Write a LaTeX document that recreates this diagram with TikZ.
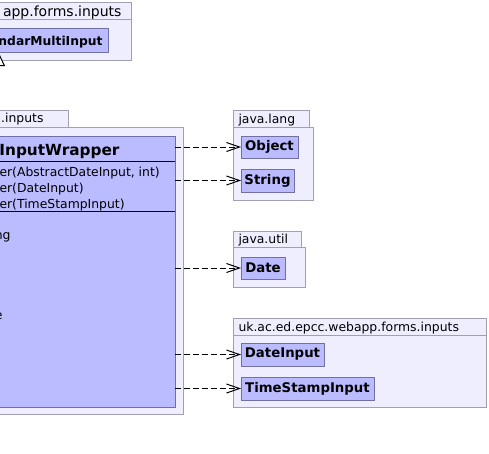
\documentclass[tikz,border=0pt]{standalone}
\usepackage{fontspec}
\setmainfont{DejaVu Sans}
\usetikzlibrary{arrows.meta}
\definecolor{pkgfill}{RGB}{238,238,255}
\definecolor{pkgline}{RGB}{160,160,178}
\definecolor{clsfill}{RGB}{187,187,255}
\definecolor{clsline}{RGB}{112,112,164}
\newcommand{\txt}{\fontsize{12.4}{14}\selectfont}
\newcommand{\btxt}{\bfseries\fontsize{13.3}{15}\selectfont}
\begin{document}
\begin{tikzpicture}[x=1pt, y=-1pt, line width=1pt,
    pkg/.style={draw=pkgline, fill=pkgfill},
    cls/.style={draw=clsline, fill=clsfill, anchor=north west, inner sep=0pt, outer sep=0pt, font=\btxt},
    lbl/.style={inner sep=0pt, font=\txt},
    dep/.style={dash pattern=on 6pt off 3pt, -{Straight Barb[length=13pt, width=9pt]}},
    inh/.style={-{Triangle[length=14pt, width=13pt, fill=white]}}]
    \useasboundingbox (0,0) rectangle (489,453);
    \clip (0,0) rectangle (489,453);
    % packages
    \draw[pkg] (-20,2) rectangle (131,19);
    \draw[pkg] (-20,19) rectangle (131,60);
    \node[lbl, font=\fontsize{14}{16}\selectfont, anchor=base west] (toplbl) at (2.5,16) {app.forms.inputs};
    \draw[pkg] (-20,110) rectangle (68,127);
    \draw[pkg] (-20,127) rectangle (183,414);
    \node[lbl, anchor=base east] (midlbl) at (44,122) {.inputs};
    \draw[pkg] (233,110) rectangle (309,127);
    \draw[pkg] (233,127) rectangle (313,200);
    \node[lbl, anchor=base west] (langlbl) at (238,123) {java.lang};
    \draw[pkg] (233,231) rectangle (301,247);
    \draw[pkg] (233,247) rectangle (305,287);
    \node[lbl, anchor=base west] (utillbl) at (238,243.5) {java.util};
    \draw[pkg] (233,318) rectangle (486,335);
    \draw[pkg] (233,335) rectangle (486,407);
    \node[lbl, anchor=base west] (uklbl) at (238,331) {uk.ac.ed.epcc.webapp.forms.inputs};
    % classes
    \node[cls, minimum width=128pt, minimum height=24pt] (multi) at (-20,28) {};
    \node[inner sep=0pt, font=\bfseries\fontsize{12.3}{15}\selectfont, anchor=base east] (multiname) at (103,45) {ndarMultiInput};
    \node[cls, minimum width=195pt, minimum height=271pt] (wrapper) at (-20,136) {};
    \node[inner sep=0pt, font=\bfseries\fontsize{15.3}{18}\selectfont, anchor=base east] (wname) at (120,155) {InputWrapper};
    \draw (-20,161) -- (175,161);
    \node[lbl, anchor=base west] (wc1) at (-1,176) {er(AbstractDateInput, int)};
    \node[lbl, anchor=base west] (wc2) at (-1,192) {er(DateInput)};
    \node[lbl, anchor=base west] (wc3) at (-1,208) {er(TimeStampInput)};
    \draw (-20,211) -- (175,211);
    \node[lbl, anchor=base east] (wm1) at (11,239) {ng};
    \node[lbl, anchor=base east] (wm6) at (3,319) {e};
    \node[cls, minimum width=57pt, minimum height=22pt] (obj) at (241,136) {Object};
    \node[cls, minimum width=53pt, minimum height=23pt] (str) at (241,169) {String};
    \node[cls, minimum width=44pt, minimum height=22pt] (date) at (241,257) {Date};
    \node[cls, minimum width=83pt, minimum height=23pt] (din) at (241,343) {DateInput};
    \node[cls, minimum width=133pt, minimum height=23pt] (tsin) at (241,377) {TimeStampInput};
    % dependencies
    \draw[dep] (wrapper.east |- obj.west) -- (obj.west);
    \draw[dep] (wrapper.east |- str.west) -- (str.west);
    \draw[dep] (wrapper.east |- date.west) -- (date.west);
    \draw[dep] (wrapper.east |- din.west) -- (din.west);
    \draw[dep] (wrapper.east |- tsin.west) -- (tsin.west);
    % generalisation
    \coordinate (hook) at (-1.5,0);
    \draw[inh] (wrapper.north -| hook) -- (multi.south -| hook);
\end{tikzpicture}
\end{document}
